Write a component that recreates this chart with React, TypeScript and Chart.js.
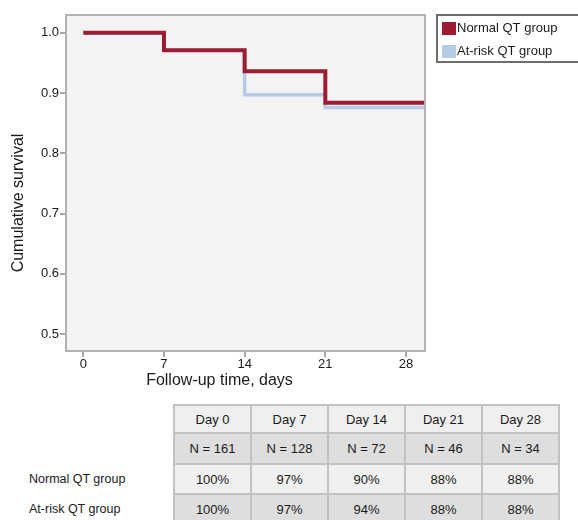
import React, { useEffect, useRef } from 'react';
import { Chart, registerables } from 'chart.js';

Chart.register(...registerables);

// ---- data ----
const X_TICKS = [0, 7, 14, 21, 28];
const Y_TICKS = [0.5, 0.6, 0.7, 0.8, 0.9, 1.0];
const TIMES = [0, 7, 14, 21, 29.65];
const NORMAL_SURV = [1.0, 0.971, 0.936, 0.884, 0.884];
const ATRISK_SURV = [1.0, 0.971, 0.897, 0.876, 0.876];
const SERIES_LABELS = ['Normal QT group', 'At-risk QT group'];
const SERIES_COLORS = ['#9b1c33', '#b5cbe8'];
const X_TITLE = 'Follow-up time, days';
const Y_TITLE = 'Cumulative survival';
const TABLE_DAYS = ['Day 0', 'Day 7', 'Day 14', 'Day 21', 'Day 28'];
const TABLE_N = ['N = 161', 'N = 128', 'N = 72', 'N = 46', 'N = 34'];
const TABLE_NORMAL = ['100%', '97%', '90%', '88%', '88%'];
const TABLE_ATRISK = ['100%', '97%', '94%', '88%', '88%'];
const X_MIN = -1.5;
const X_MAX = 29.65;
const Y_MIN = 0.472;
const Y_MAX = 1.0295;

const FONT = '"Liberation Sans", Arial, sans-serif';

const decorPlugin = {
  id: 'decor',
  beforeDatasetsDraw(chart: any) {
    const { ctx, chartArea: a } = chart;
    ctx.save();
    ctx.fillStyle = '#f3f3f3';
    ctx.fillRect(a.left, a.top, a.right - a.left, a.bottom - a.top);
    ctx.restore();
  },
  afterDatasetsDraw(chart: any) {
    const { ctx, chartArea: a } = chart;
    ctx.save();
    ctx.strokeStyle = '#b3b3b3';
    ctx.lineWidth = 2;
    ctx.strokeRect(a.left, a.top, a.right - a.left, a.bottom - a.top);
    ctx.restore();
  },
  afterDraw(chart: any) {
    const { ctx, chartArea: a } = chart;
    ctx.save();
    ctx.fillStyle = '#1a1a1a';
    ctx.font = `16px ${FONT}`;
    ctx.textAlign = 'center';
    ctx.textBaseline = 'middle';
    // x title
    ctx.fillText(X_TITLE, a.left + 153.5, a.bottom + 30);
    // y title
    ctx.save();
    ctx.translate(19, a.top + 188);
    ctx.rotate(-Math.PI / 2);
    ctx.fillText(Y_TITLE, 0, 0);
    ctx.restore();

    // legend
    const lx = a.right + 12;
    const ly = a.top;
    ctx.fillStyle = '#ffffff';
    ctx.fillRect(lx, ly, 200, 47);
    ctx.strokeStyle = '#6e6e6e';
    ctx.lineWidth = 2;
    ctx.strokeRect(lx, ly, 200, 47);
    ctx.font = `13px ${FONT}`;
    ctx.textAlign = 'left';
    chart.data.datasets.forEach((ds: any, i: number) => {
      const cy = ly + 13.5 + i * 23;
      ctx.fillStyle = ds.borderColor;
      ctx.fillRect(lx + 5, cy - 6.5, 14, 13);
      ctx.fillStyle = '#1a1a1a';
      ctx.fillText(ds.label, lx + 20, cy);
    });
    ctx.restore();
  },
};

function KMChart() {
  const ref = useRef<HTMLCanvasElement | null>(null);
  useEffect(() => {
    if (!ref.current) return;
    const mk = (vals: number[]) => TIMES.map((t, i) => ({ x: t, y: vals[i] }));
    const chart = new Chart(ref.current, {
      type: 'line',
      data: {
        datasets: [
          {
            label: SERIES_LABELS[0],
            data: mk(NORMAL_SURV),
            borderColor: SERIES_COLORS[0],
            backgroundColor: SERIES_COLORS[0],
            borderWidth: 4,
            stepped: true,
            pointRadius: 0,
            borderJoinStyle: 'miter',
            borderCapStyle: 'butt',
            fill: false,
          },
          {
            label: SERIES_LABELS[1],
            data: mk(ATRISK_SURV),
            borderColor: SERIES_COLORS[1],
            backgroundColor: SERIES_COLORS[1],
            borderWidth: 3.5,
            stepped: true,
            pointRadius: 0,
            borderJoinStyle: 'miter',
            borderCapStyle: 'butt',
            fill: false,
          },
        ],
      },
      options: {
        responsive: false,
        animation: false,
        events: [],
        layout: { padding: { top: 15, right: 153, left: 0, bottom: 0 } },
        plugins: {
          legend: { display: false },
          tooltip: { enabled: false },
          title: { display: false },
        },
        scales: {
          x: {
            type: 'linear',
            min: X_MIN,
            max: X_MAX,
            afterBuildTicks: (s: any) => {
              s.ticks = X_TICKS.map((v) => ({ value: v }));
            },
            afterFit: (s: any) => {
              s.height = 44;
            },
            ticks: {
              color: '#1a1a1a',
              font: { family: FONT, size: 13 },
              padding: 0,
              maxRotation: 0,
              callback: (v: any) => String(v),
            },
            grid: {
              drawOnChartArea: false,
              drawTicks: true,
              tickLength: 6,
              color: '#a8a8a8',
              lineWidth: 2,
            },
            border: { display: false },
          },
          y: {
            type: 'linear',
            min: Y_MIN,
            max: Y_MAX,
            afterBuildTicks: (s: any) => {
              s.ticks = Y_TICKS.map((v) => ({ value: v }));
            },
            afterFit: (s: any) => {
              s.width = 66;
            },
            ticks: {
              color: '#1a1a1a',
              font: { family: FONT, size: 13 },
              padding: 1,
              callback: (v: any) => Number(v).toFixed(1),
            },
            grid: {
              drawOnChartArea: false,
              drawTicks: true,
              tickLength: 6,
              color: '#a8a8a8',
              lineWidth: 2,
            },
            border: { display: false },
          },
        },
      } as any,
      plugins: [decorPlugin],
    });
    return () => chart.destroy();
  }, []);
  return (
    <canvas
      ref={ref}
      width={578}
      height={395}
      style={{ position: 'absolute', left: 0, top: 0, width: 578, height: 395 }}
    />
  );
}

const cellBase: React.CSSProperties = {
  border: '2px solid #c2c2c2',
  textAlign: 'center',
  verticalAlign: 'middle',
  padding: 0,
  fontSize: 13,
  color: '#1a1a1a',
};
const labelCell: React.CSSProperties = {
  border: 'none',
  background: 'transparent',
  textAlign: 'left',
  paddingLeft: 29,
  fontSize: 12.5,
  color: '#1a1a1a',
  verticalAlign: 'middle',
};

function RiskTable() {
  const rows: { label: string; cells: string[]; bg: string; h: number }[] = [
    { label: '', cells: TABLE_DAYS, bg: '#efefef', h: 28 },
    { label: '', cells: TABLE_N, bg: '#dedede', h: 31 },
    { label: SERIES_LABELS[0], cells: TABLE_NORMAL, bg: '#f0f0f0', h: 30 },
    { label: SERIES_LABELS[1], cells: TABLE_ATRISK, bg: '#dedede', h: 30 },
  ];
  return (
    <table
      style={{
        position: 'absolute',
        left: 0,
        top: 404,
        width: 560,
        borderCollapse: 'collapse',
        tableLayout: 'fixed',
        fontFamily: FONT,
      }}
    >
      <colgroup>
        <col style={{ width: 174 }} />
        {TABLE_DAYS.map((d) => (
          <col key={d} style={{ width: 77 }} />
        ))}
      </colgroup>
      <tbody>
        {rows.map((r, ri) => (
          <tr key={ri} style={{ height: r.h }}>
            <td style={labelCell}>{r.label}</td>
            {r.cells.map((c, ci) => (
              <td key={ci} style={{ ...cellBase, background: r.bg }}>
                {c}
              </td>
            ))}
          </tr>
        ))}
      </tbody>
    </table>
  );
}

export default function App() {
  return (
    <div
      style={{
        position: 'fixed',
        left: 0,
        top: 0,
        width: 578,
        height: 520,
        overflow: 'hidden',
        background: '#ffffff',
        fontFamily: FONT,
      }}
    >
      <KMChart />
      <RiskTable />
    </div>
  );
}
